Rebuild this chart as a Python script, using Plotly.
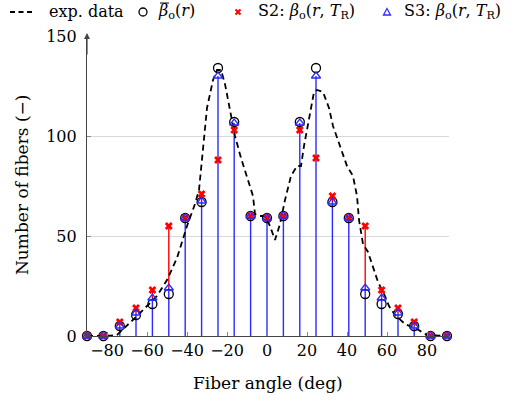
import plotly.graph_objects as go

# ---- data ----
angles = [-90, -81.8, -73.6, -65.5, -57.3, -49.1, -40.9, -32.7, -24.5, -16.4, -8.2, 0,
          8.2, 16.4, 24.5, 32.7, 40.9, 49.1, 57.3, 65.5, 73.6, 81.8, 90]
beta_mean = [0, 0, 5, 10.5, 16, 21, 59, 67, 134, 107, 60, 59, 60, 107, 134, 67, 59, 21, 16, 11, 5, 0, 0]
s2_vals = [0, 0, 7, 14, 23, 55, 59, 71, 88, 103, 60, 59, 60, 103, 89, 70, 59, 55, 23, 14, 7, 0, 0]
s3_vals = [0, 0, 5, 11.5, 19, 24, 59, 67.5, 130, 106.5, 60, 59, 60, 106.5, 130, 67, 59, 24, 19, 11.5, 5, 0, 0]

exp_x = [-90, -80, -75, -70, -65, -60, -55, -50, -45, -40, -36, -34, -32, -30, -27, -25, -23, -21,
         -18.5, -16, -13, -10, -7, -6, -4, -1, 1.5, 4, 6.5, 9, 12, 15, 17, 18.5, 20.5, 22, 23.5,
         25, 28, 31, 33, 36.5, 40, 43, 45, 46, 48, 50.5, 53, 55.5, 59, 61, 64, 69, 75, 80, 90]
exp_y = [0, 0, 0.5, 5, 10, 15, 20, 28, 39, 55, 66, 73, 95, 114, 128, 133, 133, 126,
         113, 100, 89, 80, 70, 61, 60, 60, 55, 48, 56, 68, 80, 85, 85, 95, 106, 115, 122,
         123, 122, 114, 105, 95, 85, 80, 70, 58, 46, 42, 35, 27, 20, 15, 10.5, 6, 3.5, 0.5, 0]

x_ticks = [-80, -60, -40, -20, 0, 20, 40, 60, 80]
x_ticktext = ["\u221280", "\u221260", "\u221240", "\u221220", "0", "20", "40", "60", "80"]
y_ticks = [0, 50, 100, 150]

legend_labels = ["exp. data",
                 "<i>\u03b2</i><sub>o</sub>(<i>r</i>)",
                 "S2: <i>\u03b2</i><sub>o</sub>(<i>r</i>, <i>T</i><sub>R</sub>)",
                 "S3: <i>\u03b2</i><sub>o</sub>(<i>r</i>, <i>T</i><sub>R</sub>)"]

FONT = "DejaVu Serif"
BLUE = "#2b2bff"
RED = "#ff0000"

W, H = 514, 402
ML, MR, MT, MB = 87, 65, 36, 66
PW, PH = W - ML - MR, H - MT - MB


def px_x(px):
    return (px - ML) / PW


def px_y(py):
    return 1 + (MT - py) / PH


fig = go.Figure()

# red stems only where S2 rises above S3 (below that they are hidden by the blue stems)
rx, ry = [], []
for a, v2, v3 in zip(angles, s2_vals, s3_vals):
    if v2 > v3:
        rx += [a, a, None]
        ry += [v3, v2, None]
fig.add_trace(go.Scatter(x=rx, y=ry, mode="lines", line=dict(color=RED, width=1.4),
                         showlegend=False, hoverinfo="skip", cliponaxis=False))
bx, by = [], []
for a, v3 in zip(angles, s3_vals):
    bx += [a, a, None]
    by += [0, v3, None]
fig.add_trace(go.Scatter(x=bx, y=by, mode="lines", line=dict(color=BLUE, width=1.4),
                         showlegend=False, hoverinfo="skip", cliponaxis=False))

fig.add_trace(go.Scatter(x=exp_x, y=exp_y, mode="lines", name="exp. data",
                         line=dict(color="black", width=1.8, dash="6px,4px"),
                         showlegend=False, cliponaxis=False))
fig.add_trace(go.Scatter(x=angles, y=beta_mean, mode="markers", name="beta_mean",
                         marker=dict(symbol="circle-open", size=9, color="black", line=dict(width=1.3)),
                         showlegend=False, cliponaxis=False))
fig.add_trace(go.Scatter(x=angles, y=s2_vals, mode="markers", name="S2",
                         marker=dict(symbol="x", size=7, color=RED, line=dict(width=0)),
                         showlegend=False, cliponaxis=False))
fig.add_trace(go.Scatter(x=angles, y=s3_vals, mode="markers", name="S3",
                         marker=dict(symbol="triangle-up-open", size=8, color=BLUE, line=dict(width=1.3)),
                         showlegend=False, cliponaxis=False))

fig.update_layout(
    width=W, height=H,
    margin=dict(l=ML, r=MR, t=MT, b=MB, autoexpand=False),
    paper_bgcolor="white", plot_bgcolor="white",
    font=dict(family=FONT, size=15, color="black"),
    showlegend=False,
    xaxis=dict(range=[-90, 91], tickvals=x_ticks, ticktext=x_ticktext,
               showgrid=False, zeroline=False, showline=True, linecolor="#444", linewidth=1.2,
               ticks="inside", ticklen=4, tickcolor="#888", automargin=False,
               tickfont=dict(size=16)),
    yaxis=dict(range=[0, 150], tickvals=y_ticks, showgrid=True, gridcolor="#d9d9d9",
               zeroline=False, showline=True, linecolor="#444", linewidth=1.2,
               ticks="inside", ticklen=4, tickcolor="#888", automargin=False,
               ticklabelstandoff=6, tickfont=dict(size=16)),
)

# y-axis arrow head
fig.add_annotation(x=-90, y=151.5, ax=-90, ay=140, xref="x", yref="y", axref="x", ayref="y",
                   showarrow=True, arrowhead=2, arrowsize=1, arrowwidth=1.2, arrowcolor="#444", text="")
# axis titles
fig.add_annotation(text="Fiber angle (deg)", xref="paper", yref="paper", x=px_x(268), y=px_y(383),
                   showarrow=False, xanchor="center", yanchor="middle", font=dict(size=17))
fig.add_annotation(text="Number of fibers (\u2212)", xref="paper", yref="paper", x=px_x(22), y=px_y(185),
                   showarrow=False, xanchor="center", yanchor="middle", textangle=-90, font=dict(size=17))

# ---- legend (drawn manually to match the reference row) ----
LY = 12
ly = px_y(LY)
fig.add_shape(type="line", xref="paper", yref="paper", x0=px_x(10), x1=px_x(35), y0=ly, y1=ly,
              line=dict(color="black", width=1.8, dash="5px,3.5px"))
fig.add_shape(type="circle", xref="paper", yref="paper", xsizemode="pixel", ysizemode="pixel",
              xanchor=px_x(143), yanchor=ly, x0=-4, x1=4, y0=-4, y1=4,
              line=dict(color="black", width=1.3))
fig.add_shape(type="path", xref="paper", yref="paper", xsizemode="pixel", ysizemode="pixel",
              xanchor=px_x(238), yanchor=ly, path="M-2.5,-2.5 L2.5,2.5 M-2.5,2.5 L2.5,-2.5",
              line=dict(color=RED, width=2))
fig.add_shape(type="path", xref="paper", yref="paper", xsizemode="pixel", ysizemode="pixel",
              xanchor=px_x(387), yanchor=ly, path="M-3.5,-3 L3.5,-3 L0,3.5 Z",
              line=dict(color=BLUE, width=1.3))
for lbl, lx in zip(legend_labels, [47, 156, 256, 402]):
    fig.add_annotation(text=lbl, xref="paper", yref="paper", x=px_x(lx), y=ly,
                       showarrow=False, xanchor="left", yanchor="middle", font=dict(size=16))
# bar over the beta of the mean-value label
fig.add_shape(type="line", xref="paper", yref="paper", x0=px_x(160), x1=px_x(169),
              y0=px_y(3), y1=px_y(3), line=dict(color="black", width=1))

fig.write_html("out.html", config={"displayModeBar": False},
               post_script="document.body.style.margin='0px';")
